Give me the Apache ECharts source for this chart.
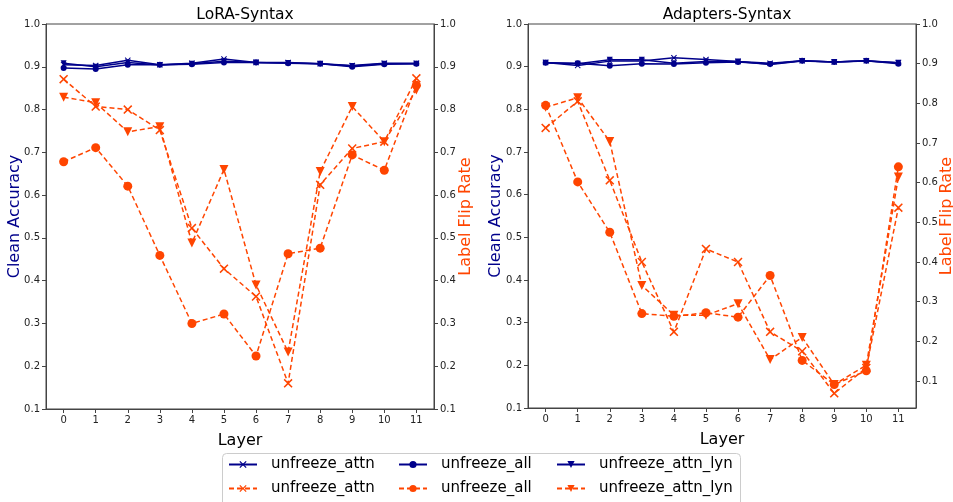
<!DOCTYPE html>
<html>
<head>
<meta charset="utf-8">
<script src="https://cdn.jsdelivr.net/npm/echarts@6/dist/echarts.min.js"></script>
<style>
  html, body { margin: 0; padding: 0; background: #fff; }
  #chart { width: 953px; height: 502px; }
</style>
</head>
<body>
<div id="chart"></div>
<script>
// layers on the x axis
const layers = [0, 1, 2, 3, 4, 5, 6, 7, 8, 9, 10, 11]
const leftTicks = [0.1, 0.2, 0.3, 0.4, 0.5, 0.6, 0.7, 0.8, 0.9, 1.0]

// LoRA-Syntax: clean accuracy
const loraAccAttn = [0.905, 0.903, 0.915, 0.905, 0.908, 0.918, 0.910, 0.910, 0.907, 0.903, 0.908, 0.908]
const loraAccAll = [0.897, 0.895, 0.905, 0.905, 0.906, 0.910, 0.910, 0.908, 0.907, 0.900, 0.906, 0.907]
const loraAccLyn = [0.908, 0.900, 0.910, 0.904, 0.907, 0.913, 0.910, 0.909, 0.907, 0.902, 0.907, 0.907]
// LoRA-Syntax: label flip rate
const loraFlipAttn = [0.871, 0.807, 0.800, 0.752, 0.523, 0.428, 0.363, 0.160, 0.624, 0.709, 0.725, 0.873]
const loraFlipAll = [0.678, 0.711, 0.621, 0.459, 0.300, 0.322, 0.224, 0.463, 0.476, 0.694, 0.658, 0.857]
const loraFlipLyn = [0.829, 0.816, 0.748, 0.760, 0.488, 0.660, 0.390, 0.233, 0.655, 0.807, 0.725, 0.846]

// Adapters-Syntax: clean accuracy
const adpAccAttn = [0.910, 0.903, 0.913, 0.913, 0.921, 0.917, 0.912, 0.908, 0.914, 0.911, 0.914, 0.909]
const adpAccAll = [0.909, 0.908, 0.902, 0.907, 0.906, 0.909, 0.911, 0.906, 0.914, 0.911, 0.914, 0.907]
const adpAccLyn = [0.909, 0.907, 0.916, 0.916, 0.908, 0.912, 0.912, 0.905, 0.913, 0.911, 0.913, 0.909]
// Adapters-Syntax: label flip rate
const adpFlipAttn = [0.738, 0.805, 0.606, 0.400, 0.224, 0.433, 0.400, 0.224, 0.175, 0.069, 0.133, 0.537]
const adpFlipAll = [0.795, 0.602, 0.475, 0.270, 0.263, 0.272, 0.261, 0.366, 0.152, 0.091, 0.126, 0.640]
const adpFlipLyn = [0.790, 0.814, 0.704, 0.341, 0.266, 0.266, 0.295, 0.154, 0.210, 0.091, 0.140, 0.614]
const adpFlipTicks = [0.1, 0.2, 0.3, 0.4, 0.5, 0.6, 0.7, 0.8, 0.9, 1.0]

const BLUE = '#00008b'
const ORANGE = '#ff4500'
const FONT = 'DejaVu Sans'
const X_MARK = 'path://M0,1.2L1.2,0L5,3.8L8.8,0L10,1.2L6.2,5L10,8.8L8.8,10L5,6.2L1.2,10L0,8.8L3.8,5Z'
const V_MARK = 'path://M0,0L10,0L5,10Z'

function pairs (vals) {
  return layers.map((l, i) => [l, vals[i]])
}

function line (name, vals, xi, yi, color, symbol, size, dashed) {
  return {
    name: name,
    type: 'line',
    xAxisIndex: xi,
    yAxisIndex: yi,
    data: pairs(vals),
    symbol: symbol,
    symbolSize: size,
    showSymbol: true,
    animation: false,
    lineStyle: { color: color, width: 1.5, type: dashed ? [5, 3] : 'solid' },
    itemStyle: { color: color }
  }
}

function xAxis (gi) {
  return {
    type: 'value',
    gridIndex: gi,
    min: -0.55,
    max: 11.55,
    name: 'Layer',
    nameLocation: 'middle',
    nameGap: 24,
    nameTextStyle: { fontFamily: FONT, fontSize: 16, color: '#000' },
    axisLine: { onZero: false, lineStyle: { color: '#444' } },
    axisTick: { customValues: layers, length: 4, lineStyle: { color: '#444' } },
    axisLabel: { customValues: layers, fontFamily: FONT, fontSize: 10, color: '#222', margin: 6 },
    splitLine: { show: false }
  }
}

function yAxis (gi, pos, name, color, min, ticks, gap) {
  return {
    type: 'value',
    gridIndex: gi,
    position: pos,
    min: min,
    max: 1.0,
    name: name,
    nameLocation: 'middle',
    nameRotate: 90,
    nameGap: gap,
    nameMoveOverlap: false,
    nameTextStyle: { fontFamily: FONT, fontSize: 16, color: color },
    axisLine: { show: true, onZero: false, lineStyle: { color: '#444' } },
    axisTick: { show: true, customValues: ticks, length: 4, lineStyle: { color: '#444' } },
    axisLabel: {
      customValues: ticks,
      fontFamily: FONT,
      fontSize: 10,
      color: '#222',
      margin: 6,
      formatter: v => v.toFixed(1)
    },
    splitLine: { show: false }
  }
}

function legendItem (name, left, top) {
  return {
    data: [name],
    left: left,
    top: top,
    padding: 0,
    itemWidth: 28,
    itemHeight: 9,
    selectedMode: false,
    formatter: n => n.split(':')[1],
    textStyle: { fontFamily: FONT, fontSize: 15, color: '#000', padding: [0, 0, 0, 9] }
  }
}

const chart = echarts.init(document.getElementById('chart'))
const option = {
  backgroundColor: '#fff',
  animation: false,
  title: [
    { text: 'LoRA-Syntax', left: 240, top: 2, textAlign: 'center', textStyle: { fontFamily: FONT, fontSize: 15.5, fontWeight: 'normal', color: '#000' } },
    { text: 'Adapters-Syntax', left: 722, top: 2, textAlign: 'center', textStyle: { fontFamily: FONT, fontSize: 15.5, fontWeight: 'normal', color: '#000' } }
  ],
  grid: [
    { left: 46, top: 24, width: 388, height: 385, outerBoundsMode: 'none', show: true, borderColor: '#444', borderWidth: 1 },
    { left: 528, top: 24, width: 388, height: 384, outerBoundsMode: 'none', show: true, borderColor: '#444', borderWidth: 1 }
  ],
  xAxis: [xAxis(0), xAxis(1)],
  yAxis: [
    yAxis(0, 'left', 'Clean Accuracy', BLUE, 0.1, leftTicks, 23),
    yAxis(0, 'right', 'Label Flip Rate', ORANGE, 0.1, leftTicks, 24),
    yAxis(1, 'left', 'Clean Accuracy', BLUE, 0.1, leftTicks, 24),
    yAxis(1, 'right', 'Label Flip Rate', ORANGE, 0.032, adpFlipTicks, 23)
  ],
  legend: [
    legendItem('acc:unfreeze_attn', 228, 457),
    legendItem('acc:unfreeze_all', 398, 457),
    legendItem('acc:unfreeze_attn_lyn', 556, 457),
    legendItem('flip:unfreeze_attn', 228, 481),
    legendItem('flip:unfreeze_all', 398, 481),
    legendItem('flip:unfreeze_attn_lyn', 556, 481)
  ],
  graphic: [
    {
      type: 'rect',
      left: 222,
      top: 453,
      shape: { width: 518, height: 60, r: 4 },
      style: { fill: 'rgba(255,255,255,0.8)', stroke: '#ccc', lineWidth: 1 },
      z: -1
    }
  ],
  series: [
    line('acc:unfreeze_attn', loraAccAttn, 0, 0, BLUE, X_MARK, 6, false),
    line('acc:unfreeze_all', loraAccAll, 0, 0, BLUE, 'circle', 6, false),
    line('acc:unfreeze_attn_lyn', loraAccLyn, 0, 0, BLUE, V_MARK, 6, false),
    line('flip:unfreeze_attn', loraFlipAttn, 0, 1, ORANGE, X_MARK, 9, true),
    line('flip:unfreeze_all', loraFlipAll, 0, 1, ORANGE, 'circle', 9, true),
    line('flip:unfreeze_attn_lyn', loraFlipLyn, 0, 1, ORANGE, V_MARK, 9, true),
    line('acc:unfreeze_attn', adpAccAttn, 1, 2, BLUE, X_MARK, 6, false),
    line('acc:unfreeze_all', adpAccAll, 1, 2, BLUE, 'circle', 6, false),
    line('acc:unfreeze_attn_lyn', adpAccLyn, 1, 2, BLUE, V_MARK, 6, false),
    line('flip:unfreeze_attn', adpFlipAttn, 1, 3, ORANGE, X_MARK, 9, true),
    line('flip:unfreeze_all', adpFlipAll, 1, 3, ORANGE, 'circle', 9, true),
    line('flip:unfreeze_attn_lyn', adpFlipLyn, 1, 3, ORANGE, V_MARK, 9, true)
  ]
}
chart.setOption(option)
</script>
</body>
</html>
